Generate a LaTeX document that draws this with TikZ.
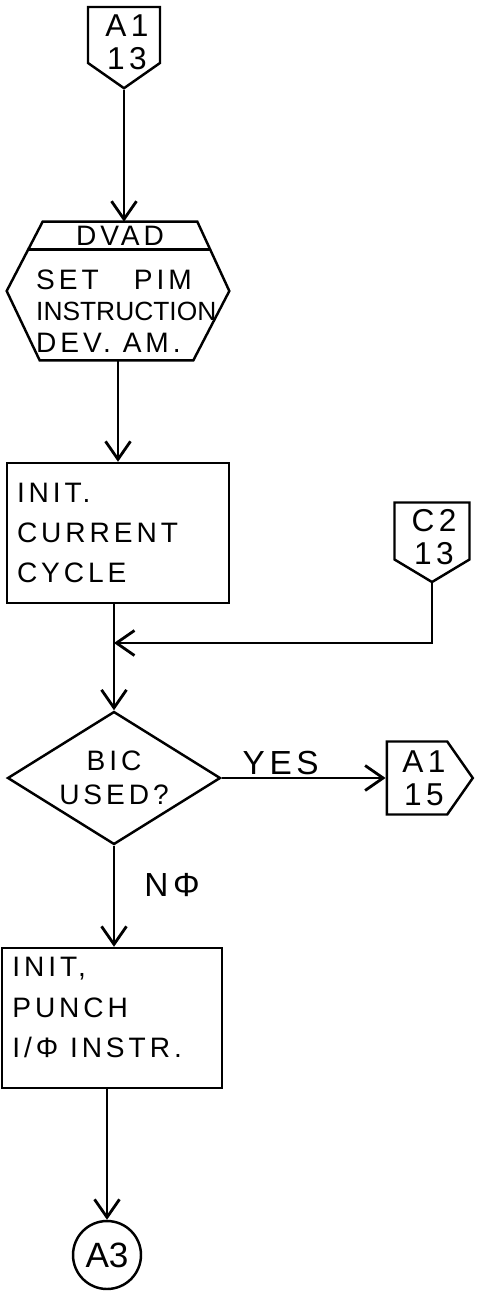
\documentclass[tikz,border=0pt]{standalone}
\usepackage{fontspec}
\newfontfamily\handfont[LetterSpace=14]{Liberation Sans}
\newfontfamily\plainhand{Liberation Sans}
\usetikzlibrary{shapes.geometric,shapes.symbols,arrows.meta,calc,positioning}
\begin{document}
\begin{tikzpicture}[x=0.02cm,y=-0.02cm,
  every node/.style={font=\handfont\fontsize{16}{23}\selectfont},
  flow/.style={line width=1.6pt,-{Straight Barb[length=0.36cm,width=0.5cm,line width=1.6pt]}},
  procbox/.style={draw,line width=1.4pt,minimum height=2.8cm,align=left,inner xsep=0.2cm},
  offpage/.style={draw,line width=1.4pt,signal,signal from=nowhere,signal pointer angle=110,inner sep=0pt},
  conlabel/.style={align=center,inner sep=0pt,font=\handfont\fontsize{18}{19}\selectfont}]
\useasboundingbox (0,0) rectangle (482,1300);
% entry connector
\node[offpage,signal to=south,minimum width=1.44cm,minimum height=1.12cm] (a113) at (124,35) {};
\node[conlabel] (a113lbl) at (127,42) {A1\\13};
% DVAD block
\node[minimum width=4.44cm,minimum height=2.76cm,inner sep=0pt] (dvad) at (118,291) {};
\draw[line width=1.4pt] ($(dvad.north west)+(36,0)$) -- ($(dvad.north east)+(-32,0)$) -- (dvad.east)
  -- ($(dvad.south east)+(-36,0)$) -- ($(dvad.south west)+(33,0)$) -- (dvad.west) -- cycle;
\draw[line width=1.4pt] ($(dvad.north west)+(21,28)$) -- ($(dvad.north east)+(-19,28)$);
\node (dvadname) at (120,236) {DVAD};
\node[anchor=west,align=left,font=\handfont\fontsize{16}{18}\selectfont] (dvadtext) at (30,311) {SET\ \ \ PIM\\{\plainhand\fontsize{15}{18}\selectfont INSTRUCTION}\\DEV.\ AM.};
% process boxes
\node[procbox,text width=4.04cm] (init) at (118,533) {INIT.\\CURRENT\\CYCLE};
\node[offpage,signal to=south,signal pointer angle=118,minimum width=1.5cm,minimum height=1.14cm] (c213) at (432,531) {};
\node[conlabel] (c213lbl) at (434,537) {C2\\13};
\coordinate (join) at (114,643);
\node[draw,diamond,aspect=1.6,line width=1.4pt,minimum width=4.26cm,minimum height=2.66cm,inner sep=0pt,align=center,
  font=\handfont\fontsize{16}{19}\selectfont] (bic) at (114,778) {BIC\\USED?};
\node[offpage,signal to=east,minimum width=1.72cm,minimum height=1.46cm] (a115) at (417,778) {};
\node[conlabel] (a115lbl) at (424,778) {A1\\15};
\node[procbox,minimum width=4.4cm] (punch) at (112,1018) {};
\node[anchor=north west,inner sep=0pt,align=left] (punchtext) at (12,957) {INIT,\\PUNCH\\I/Φ INSTR.};
\node[draw,circle,line width=1.4pt,minimum size=1.36cm,inner sep=0pt,font=\plainhand\fontsize{20}{20}\selectfont] (a3) at (107,1255) {A3};
% flow lines
\draw[flow] (a113.south) -- (a113.south |- dvad.north);
\draw[flow] (dvad.south) -- (dvad.south |- init.north);
\draw[flow] (init.south -| bic.north) -- (bic.north);
\draw[flow] (c213.south) |- (join);
\draw[flow] (bic.east) -- node[above,pos=0.36,inner sep=1pt,font=\handfont\fontsize{19}{19}\selectfont] {YES} (a115.west);
\draw[flow] (bic.south) -- node[pos=0.39,right=0.46cm,font=\handfont\fontsize{19}{19}\selectfont] {NΦ} (bic.south |- punch.north);
\draw[flow] (punch.south -| a3.north) -- (a3.north);
\end{tikzpicture}
\end{document}
